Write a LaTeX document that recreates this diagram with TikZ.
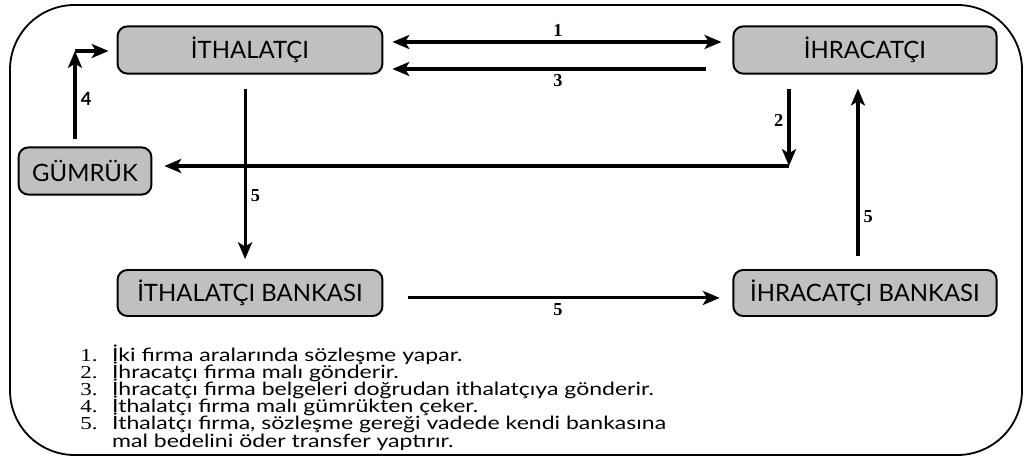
\documentclass[tikz,border=0pt]{standalone}
\usepackage{graphicx}
\usepackage{fontspec}
\setmainfont{Liberation Serif}
\newfontfamily\gill{Lato}
\usetikzlibrary{arrows.meta,positioning}
\definecolor{boxgray}{RGB}{192,192,192}
\newcommand\noteline[2]{\scalebox{1.26}[1]{\makebox[18pt][l]{\rmfamily #1}#2}}

\begin{document}
\begin{tikzpicture}[x=0.025cm,y=-0.025cm,
  box/.style={draw,line width=1.4pt,rounded corners=7pt,fill=boxgray,minimum height=1.18cm,inner sep=2pt,font=\gill\fontsize{17}{19}\selectfont},
  arr/.style={line width=2.2pt,-{Stealth[length=12pt,width=10pt,inset=3pt]}},
  num/.style={font=\bfseries\fontsize{13}{15}\selectfont,inner sep=3pt},
  note/.style={anchor=base west,inner sep=0pt,font=\gill\fontsize{13}{13}\selectfont}]
\useasboundingbox (0,0) rectangle (1027,459);
% frame
\draw[line width=1.3pt,rounded corners=46pt] (10,5) rectangle (1022,455);
% parties
\node[box,minimum width=6.62cm] (ithal) at (250,50) {İTHALATÇI};
\node[box,minimum width=6.58cm] (ihrac) at (865,50) {İHRACATÇI};
\node[box,minimum width=3.32cm] (gumruk) at (85,171) {GÜMRÜK};
\node[box,minimum width=6.62cm,minimum height=1.15cm] (ithbank) at (250,293) {İTHALATÇI BANKASI};
\node[box,minimum width=6.58cm,minimum height=1.15cm] (ihrbank) at (865,293) {İHRACATÇI BANKASI};
\coordinate (turn2) at (789,166);
\coordinate (turn4) at (75,51);
% 1 and 3
\draw[arr,{Stealth[length=12pt,width=10pt,inset=3pt]}-{Stealth[length=12pt,width=10pt,inset=3pt]},shorten <=6.4pt,shorten >=7.8pt] ([yshift=5.7pt]ithal.east) -- node[num,above]{1} ([yshift=5.7pt]ihrac.west);
\draw[arr,shorten <=19pt,shorten >=6.4pt] ([yshift=-13.5pt]ihrac.west) -- node[num,below]{3} ([yshift=-13.5pt]ithal.east);
% 2
\draw[arr,shorten <=10pt] (ihrac.south -| turn2) -- node[num,left]{2} (turn2);
\draw[arr,shorten >=8.5pt] (turn2) -- (gumruk.east |- turn2);
% 4
\draw[arr,shorten <=5pt] (gumruk.north -| turn4) -- node[num,right,font=\gill\bfseries\fontsize{13}{15}\selectfont]{4} (turn4);
\draw[arr,shorten >=5.7pt] (turn4) -- (ithal.west |- turn4);
% 5
\draw[arr,shorten <=10pt,shorten >=7pt] ([xshift=-3.5pt]ithal.south) -- node[num,right,pos=0.62]{5} ([xshift=-3.5pt]ithbank.north);
\draw[arr,shorten <=17.8pt,shorten >=9pt] ([yshift=-3.5pt]ithbank.east) -- node[num,below]{5} ([yshift=-3.5pt]ihrbank.west);
\draw[arr,shorten <=9pt,shorten >=10pt] ([xshift=-5pt]ihrbank.north) -- node[num,right,pos=0.27]{5} ([xshift=-5pt]ihrac.south);
% notes
\node[note] (n1) at (80,361) {\noteline{1.}{İki firma aralarında sözleşme yapar.}};
\node[note] (n2) at (80,378.2) {\noteline{2.}{İhracatçı firma malı gönderir.}};
\node[note] (n3) at (80,395.4) {\noteline{3.}{İhracatçı firma belgeleri doğrudan ithalatçıya gönderir.}};
\node[note] (n4) at (80,412.6) {\noteline{4.}{İthalatçı firma malı gümrükten çeker.}};
\node[note] (n5) at (80,429.8) {\noteline{5.}{İthalatçı firma, sözleşme gereği vadede kendi bankasına}};
\node[note] (n6) at (80,447) {\noteline{}{mal bedelini öder transfer yaptırır.}};
\end{tikzpicture}
\end{document}
